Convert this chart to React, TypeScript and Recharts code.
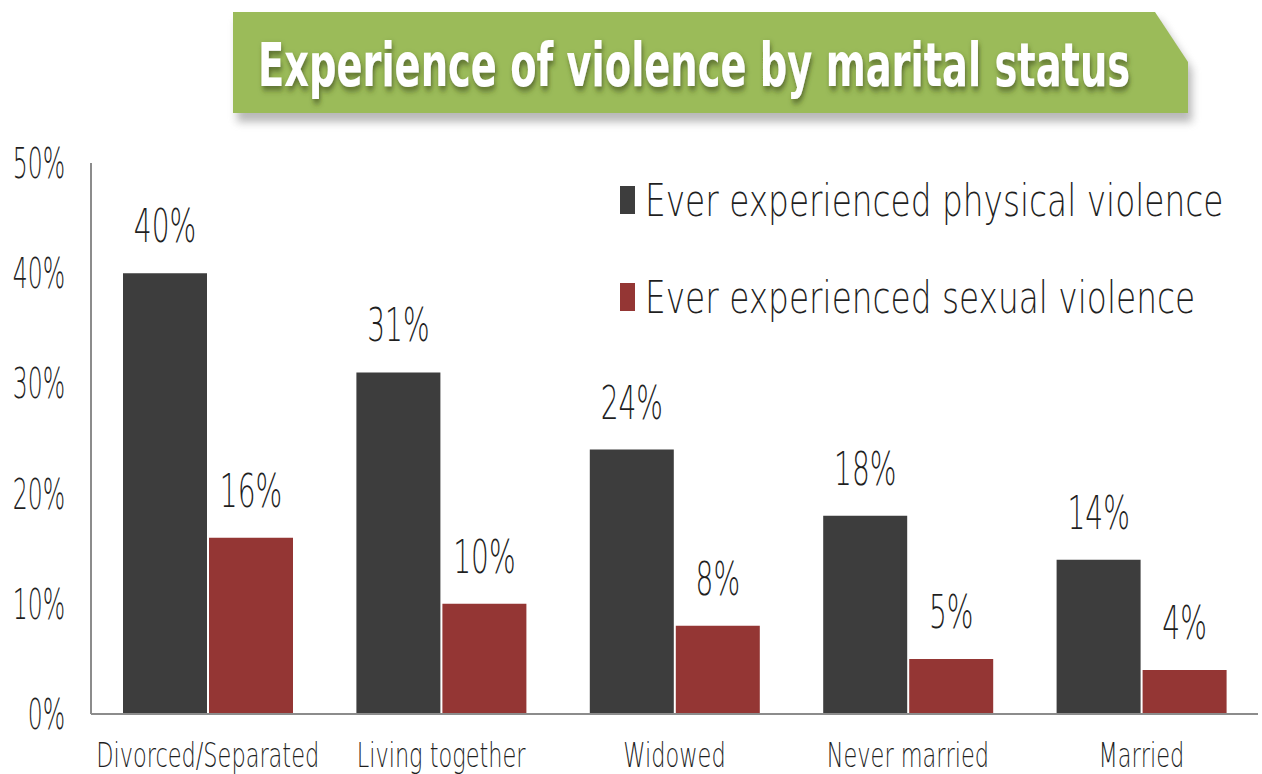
import { BarChart, Bar, XAxis, YAxis, LabelList } from 'recharts';

const categories = ['Divorced/Separated', 'Living together', 'Widowed', 'Never married', 'Married'];
const physical = [40, 31, 24, 18, 14];
const sexual = [16, 10, 8, 5, 4];
const yTicks = [0, 10, 20, 30, 40, 50];

const data = categories.map((name, i) => ({ name, physical: physical[i], sexual: sexual[i] }));

const FONT = '"DejaVu Sans", sans-serif';
const TEXT = '#1f1f1f';

const seriesInfo = [
  { key: 'physical', label: 'Ever experienced physical violence', color: '#3d3d3d' },
  { key: 'sexual', label: 'Ever experienced sexual violence', color: '#943634' },
];

// squeezed text, the original face is narrow
const SqText = ({ x, y, sx, size, anchor, children }: any) => (
  <text
    transform={`translate(${x},${y}) scale(${sx},1)`}
    textAnchor={anchor}
    fontSize={size}
    fontFamily={FONT}
    fontWeight={200}
    fill={TEXT}
  >
    {children}
  </text>
);

const YTick = ({ x, y, payload }: any) => (
  <SqText x={x} y={y + 15} sx={0.56} size={42} anchor="end">{`${payload.value}%`}</SqText>
);

const XTick = ({ x, y, payload }: any) => (
  <SqText x={x} y={y + 53} sx={0.66} size={34} anchor="middle">{payload.value}</SqText>
);

const BarLabel = ({ x, y, width, value }: any) => (
  <SqText x={x + width / 2} y={y - 31} sx={0.61} size={46} anchor="middle">{`${value}%`}</SqText>
);

export default function App() {
  return (
    <div style={{ position: 'fixed', left: 0, top: 0, width: 1262, height: 774, background: '#fff' }}>
      <div style={{ position: 'absolute', left: 0, top: 0 }}>
        <BarChart
          width={1262}
          height={774}
          data={data}
          margin={{ top: 163, right: 4, left: 0, bottom: 0 }}
          barCategoryGap={32}
          barGap={2}
        >
          <XAxis
            dataKey="name"
            height={60}
            axisLine={{ stroke: '#8c8c8c', strokeWidth: 2 }}
            tickLine={false}
            tick={<XTick />}
            tickSize={0}
            tickMargin={0}
            interval={0}
          />
          <YAxis
            width={91}
            domain={[0, 50]}
            ticks={yTicks}
            axisLine={{ stroke: '#8c8c8c', strokeWidth: 2 }}
            tickLine={false}
            tick={<YTick />}
            tickSize={0}
            tickMargin={26}
          />
          {seriesInfo.map((s) => (
            <Bar key={s.key} dataKey={s.key} fill={s.color} isAnimationActive={false}>
              <LabelList dataKey={s.key} content={<BarLabel />} />
            </Bar>
          ))}
        </BarChart>
      </div>
      {/* title banner and legend */}
      <svg width={1262} height={774} style={{ position: 'absolute', left: 0, top: 0, pointerEvents: 'none' }}>
        <defs>
          <filter id="bshadow" x="-5%" y="-20%" width="110%" height="150%">
            <feGaussianBlur stdDeviation="4" />
          </filter>
          <filter id="tshadow" x="-5%" y="-20%" width="110%" height="150%">
            <feDropShadow dx="2" dy="4" stdDeviation="3" floodColor="#3a4a1a" floodOpacity="0.7" />
          </filter>
        </defs>
        <polygon points="237,20 1159,20 1192,70 1192,122 237,122" fill="#808080" opacity={0.55} filter="url(#bshadow)" />
        <polygon points="233,12 1155,12 1188,62 1188,113 233,113" fill="#9bbb59" />
        <text
          transform="translate(258,86) scale(0.64,1)"
          fill="#fff"
          fontSize={60}
          fontWeight="bold"
          fontFamily={FONT}
          filter="url(#tshadow)"
        >
          Experience of violence by marital status
        </text>
        {seriesInfo.map((s, i) => (
          <g key={s.key}>
            <rect x={620} y={186 + i * 97} width={15} height={28} fill={s.color} />
            <SqText x={645} y={216 + i * 97} sx={0.745} size={44} anchor="start">{s.label}</SqText>
          </g>
        ))}
      </svg>
    </div>
  );
}
